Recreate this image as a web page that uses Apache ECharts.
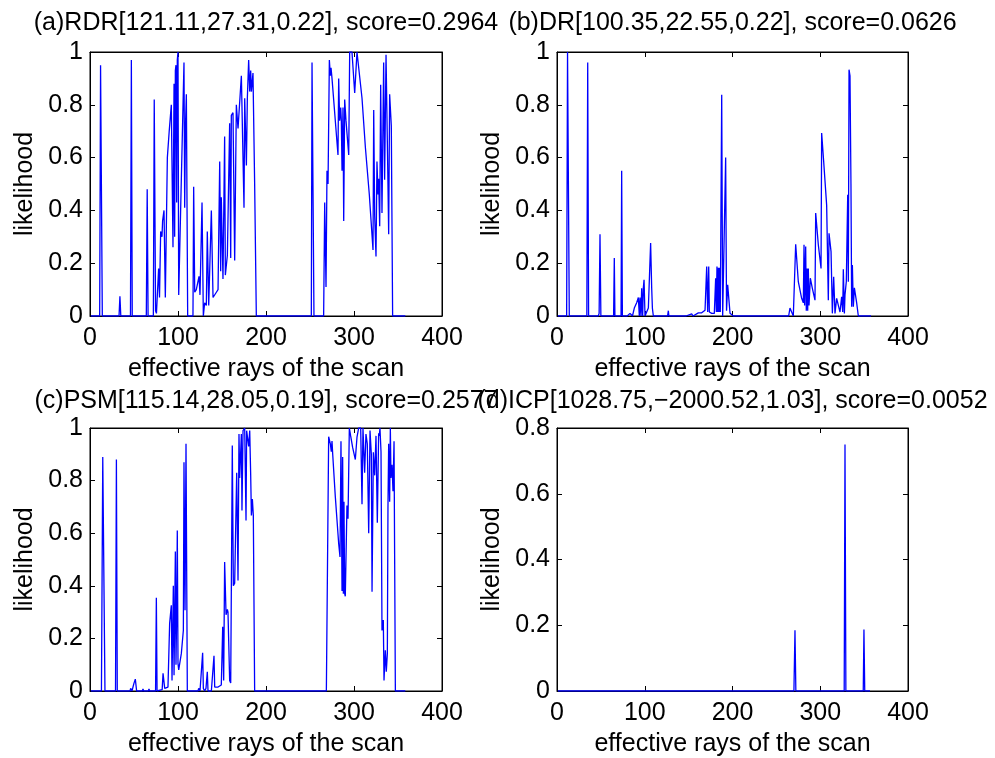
<!DOCTYPE html>
<html>
<head>
<meta charset="utf-8">
<script src="https://cdn.jsdelivr.net/npm/echarts@6/dist/echarts.min.js"></script>
<style>
html,body{margin:0;padding:0;background:#fff;}
#chart{width:995px;height:758px;}
</style>
</head>
<body>
<div id="chart"></div>
<script>
// ---- data: [ray index, likelihood] ----
const titles = [
  '(a)RDR[121.11,27.31,0.22], score=0.2964',
  '(b)DR[100.35,22.55,0.22], score=0.0626',
  '(c)PSM[115.14,28.05,0.19], score=0.2577',
  '(d)ICP[1028.75,\u22122000.52,1.03], score=0.0052'
];
const xTicks = [0, 100, 200, 300, 400];
const yMaxes = [1, 1, 1, 0.8];
const xLabel = 'effective rays of the scan';
const yLabel = 'likelihood';

const rdrPoints = [
[1,0],[11,0],[12,0.95],[13,0.95],[14,0],[33,0],[34,0.075],[35,0],[46,0],[47,0.97],[48,0],
[64,0],[65,0.48],[66,0],[72,0],[73,0.82],[74.5,0.02],[75.5,0.01],[78,0.18],[79,0.07],[80.3,0.32],
[81.8,0.3],[82.5,0.36],[84.1,0.40],[85.6,0.07],[87.9,0.6],[90,0.7],[92.4,0.8],[94.3,0.26],[95.5,0.88],
[96.2,0.3],[97,0.93],[97.7,0.95],[98.5,0.43],[99.2,0.97],[100,1.0],[100.8,0.08],[106.8,0.96],[107.6,0.41],
[108.5,0.72],[109.5,0.84],[111,0],[117,0],[117.8,0.49],[119,0.09],[120.8,0.1],[123.9,0.15],[125,0.08],
[127.3,0.43],[128.8,0],[130.3,0.05],[132.2,0.04],[133.3,0.32],[134.9,0.04],[137.9,0.40],[139.8,0.07],
[143.6,0.09],[145.5,0.1],[147.4,0.585],[148.5,0.17],[149.2,0.45],[151.1,0.14],[153,0.68],[153.8,0.155],
[156.1,0.23],[158.7,0.73],[159.9,0.22],[160.6,0.76],[162.5,0.77],[164.4,0.21],[166.3,0.8],[168.2,0.71],
[170.1,0.81],[172,0.91],[173.9,0.91],[175,0.41],[175.8,0.825],[177.7,0.57],[178.8,0.825],[180.3,0.97],
[181.5,0.85],[182.6,0.93],[183.4,0.85],[185.2,0.92],[186.4,0.92],[187.1,0.5],[189,0],[251.5,0],
[252.3,0.96],[253.5,0.96],[254.5,0],[265.5,0],[266.7,0.43],[268.2,0.11],[269.3,0.55],[270.5,0.5],
[272,0.97],[273.1,0.91],[273.9,0.94],[275,0.9],[281.8,0.61],[282.6,0.9],[283.7,0.74],[284.9,0.79],
[285.6,0.74],[286.4,0.55],[287.5,0.79],[288.3,0.36],[289.4,0.82],[290.9,0.74],[294,0.61],[295.1,1.0],
[297.7,1.0],[300.8,0.845],[303.4,1.0],[305.3,1.0],[309.1,0.825],[312.9,0.64],[317.4,0.46],[321.6,0.25],
[322.4,0.78],[323.5,0.38],[325,0.225],[326.1,0.585],[327.3,0.46],[328,0.52],[329.2,0.34],[330.3,0.876],
[331.8,0.39],[333.7,0.96],[334.8,0.516],[336.4,0.99],[338.6,0.5],[339.4,0.31],[340.5,0.84],[342.4,0.72],
[343.9,0],[358.3,0]
];

const drPoints = [
[1,0],[11,0],[12,1.0],[13,1.0],[14,0],[34,0],[35,0.96],[36,0],[47,0],[48,0.01],[49,0.31],[50,0],
[64.5,0],[65.3,0.22],[66,0],[73,0],[73.7,0.55],[74.5,0],[80,0],[83.2,0.01],[86,0],[88.1,0.03],
[90.8,0.05],[92.7,0.07],[93.8,0],[94.6,0.07],[95.7,0],[96.5,0.105],[97.6,0],[98.4,0.107],[99.2,0.137],
[100.3,0],[102.2,0.015],[104.1,0.03],[106,0.035],[106.7,0.276],[107.9,0.107],[108.7,0.03],[109.8,0],
[126,0],[126.9,0.02],[127.5,0],[147,0],[147.8,0.005],[149,0],[153.5,0.008],[155,0],[161.1,0.012],
[163,0.005],[164.9,0.012],[166.8,0.015],[168.7,0.022],[170.6,0.187],[171.7,0.015],[172.9,0.187],
[173.6,0.015],[176.3,0.01],[179.3,0.01],[180.8,0.143],[181.6,0.015],[182.3,0.187],[183.1,0.015],
[183.9,0.183],[184.6,0.015],[185.4,0.183],[186.1,0.015],[187.7,0.838],[188.8,0],[190.3,0],[192.2,0.6],
[193.2,0.02],[194.5,0.118],[196,0.118],[197.2,0.01],[198.3,0.005],[201,0],[251,0],[252.2,0.006],[253,0],
[264,0],[265.5,0.03],[267.4,0.015],[269.3,0],[272,0.272],[275,0.13],[278.8,0.067],[280.7,0.05],
[281.5,0.27],[282.2,0.04],[283.4,0.263],[284.1,0.02],[284.9,0.18],[285.7,0.02],[286.4,0.18],[287.2,0.04],
[288.7,0.143],[291,0.105],[294,0.06],[294.8,0.39],[297.8,0.27],[300.9,0.18],[301.6,0.693],[303.9,0.585],
[307.3,0.42],[309.2,0.06],[310,0.313],[312.3,0.244],[313.8,0.01],[315.3,0.149],[316.8,0.01],[318.7,0.067],
[320.6,0.073],[322.5,0.015],[324.4,0.073],[325.6,0.015],[326.3,0.177],[327.5,0.01],[328.2,0.08],
[329.7,0.13],[331.3,0.459],[332,0.13],[332.8,0.933],[333.9,0.91],[335,0.5],[335.8,0.035],[336.6,0.193],
[337.7,0.035],[338.9,0.107],[340.4,0.11],[341.5,0.05],[343.4,0],[357.9,0]
];

const psmPoints = [
[1,0],[13,0],[14.5,0.89],[15.5,0.89],[17,0],[29,0],[30,0.88],[31,0],[45.5,0],[46.2,0.01],[47.7,0],
[50,0.03],[51.5,0.045],[53,0],[59.5,0],[60.2,0.008],[61,0],[66.3,0],[67,0.008],[67.8,0],[74.5,0],
[75.4,0.355],[76.2,0],[82,0.005],[83,0.067],[84.9,0.01],[88.6,0.015],[90.5,0.257],[92.4,0.326],
[93.2,0.04],[94.7,0.4],[95.5,0.06],[97,0.53],[97.7,0.1],[98.5,0.3],[99.2,0.61],[100,0.105],[100.8,0.08],
[103.8,0.143],[106.1,0.231],[106.8,0.87],[108,0.307],[109.1,0.94],[109.9,0.945],[110.6,0],[122.7,0],
[123.5,0.01],[125,0],[128,0.145],[128.8,0.01],[130.3,0],[131.8,0.01],[133.3,0.073],[134.1,0],[137.9,0],
[140.9,0.134],[141.7,0.015],[145.5,0.015],[149.2,0.023],[150.8,0.244],[151.9,0.04],[153,0.49],
[154.6,0.29],[156.1,0.31],[156.8,0.3],[158.7,0.04],[159.9,0.03],[161.7,0.933],[162.9,0.4],[164.4,0.41],
[166.7,0.83],[168.2,0.42],[169.3,0.977],[170.1,0.81],[172,0.977],[172.7,0.686],[173.9,0.99],[175.8,1.0],
[177.3,0.648],[178,0.99],[179.6,0.99],[180.3,0.93],[181.5,0.99],[182.6,0.82],[183.4,0.667],[184.5,0.73],
[185.6,0.667],[187.1,0],[255,0],[256.1,0.006],[257,0],[268.6,0],[271.2,0.967],[273.1,0.94],[274.2,0.91],
[275,0.95],[275.8,0.9],[278.8,0.737],[282.6,0.56],[284.1,0.51],[285.2,0.95],[286.4,0.38],[287.1,0.89],
[287.9,0.37],[288.6,0.72],[289.4,0.37],[290.1,0.36],[292,0.705],[293.2,0.655],[294.7,1.0],[296.2,0.97],
[298.5,0.925],[301.5,0.88],[303.4,0.965],[305.3,1.0],[307.6,1.0],[309.1,0.71],[310.2,1.0],[312.1,0.83],
[313.6,0.977],[315.1,0.94],[316.7,0.6],[318.2,0.99],[319.7,0.9],[320.5,0.377],[322,0.908],[323.5,0.82],
[325,0.97],[326.5,0.64],[328,0.98],[328.8,0.97],[329.5,1.0],[330.7,0.91],[331.8,0.23],[333.3,0.27],
[334.1,0.04],[335.6,0.155],[336.7,0.073],[337.9,0.143],[338.6,0.7],[339.4,0.94],[340.5,0.72],[341.3,1.0],
[342,0.81],[343.2,0.86],[344.3,0.76],[345.5,0.95],[346.2,0.5],[347,0],[358.3,0]
];

const icpPoints = [
[1,0],[270,0],[271.2,0.185],[272.2,0],[327.3,0],[328.2,0.75],[329.2,0],[349,0],[349.8,0.187],[350.7,0],[356.7,0]
];

// ---- chart ----
const allPoints = [rdrPoints, drPoints, psmPoints, icpPoints];
const FONT = "'Liberation Sans', Arial, Helvetica, sans-serif";
const FS = 25;
const grids = [
  {left: 90, top: 52, width: 352, height: 264},
  {left: 557, top: 52, width: 351, height: 264},
  {left: 90, top: 428, width: 352, height: 264},
  {left: 557, top: 428, width: 351, height: 264}
];
const titleCenters = [[266, 11], [732.5, 11], [266, 389], [732.5, 389]];

const black = '#000';
const xAxes = [], yAxes = [], series = [], titleArr = [];
grids.forEach((g, i) => {
  g.show = true; g.borderColor = black; g.borderWidth = 1; g.backgroundColor = '#fff';
  const tickCommon = {show: true, inside: true, length: 5, lineStyle: {color: black, width: 1}};
  const lineCommon = {show: true, onZero: false, lineStyle: {color: black, width: 1}};
  const xBase = {gridIndex: i, type: 'value', min: xTicks[0], max: xTicks[xTicks.length - 1],
    interval: xTicks[1] - xTicks[0], splitLine: {show: false}, axisLine: lineCommon, axisTick: tickCommon};
  xAxes.push(Object.assign({}, xBase, {
    position: 'bottom',
    axisLabel: {margin: 10, fontSize: FS, color: black, fontFamily: FONT},
    name: xLabel, nameLocation: 'middle', nameGap: 41,
    nameTextStyle: {fontSize: FS, color: black, fontFamily: FONT}
  }));
  xAxes.push(Object.assign({}, xBase, {position: 'top', axisLabel: {show: false}}));
  const yBase = {gridIndex: i, type: 'value', min: 0, max: yMaxes[i], interval: 0.2,
    splitLine: {show: false}, axisLine: lineCommon, axisTick: tickCommon};
  yAxes.push(Object.assign({}, yBase, {
    position: 'left',
    axisLabel: {margin: 7, fontSize: FS, color: black, fontFamily: FONT},
    name: yLabel, nameLocation: 'middle', nameGap: 52, nameRotate: 90,
    nameTextStyle: {fontSize: FS, color: black, fontFamily: FONT}
  }));
  yAxes.push(Object.assign({}, yBase, {position: 'right', axisLabel: {show: false}}));
  series.push({
    type: 'line', xAxisIndex: 2 * i, yAxisIndex: 2 * i, data: allPoints[i],
    showSymbol: false, symbol: 'none', clip: true,
    lineStyle: {color: '#0000ff', width: 1.3}, itemStyle: {color: '#0000ff'}
  });
  titleArr.push({
    text: titles[i], left: titleCenters[i][0], top: titleCenters[i][1], textAlign: 'center', padding: 0,
    textStyle: {fontSize: FS, fontWeight: 'normal', color: black, fontFamily: FONT}
  });
});

const chart = echarts.init(document.getElementById('chart'), null, {renderer: 'canvas'});
chart.setOption({
  backgroundColor: '#fff',
  animation: false,
  title: titleArr,
  grid: grids,
  xAxis: xAxes,
  yAxis: yAxes,
  series: series
});
</script>
</body>
</html>
